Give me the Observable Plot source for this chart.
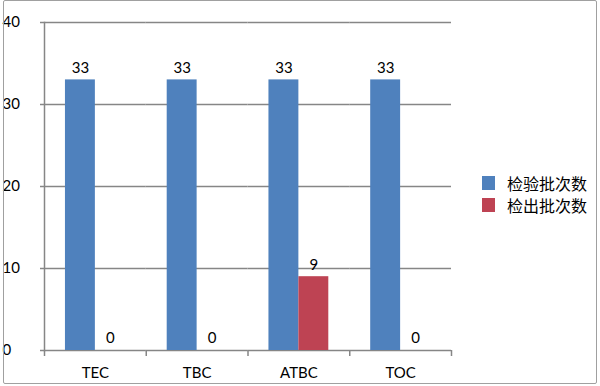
<!DOCTYPE html>
<html>
<head>
<meta charset="utf-8">
<script src="https://cdn.jsdelivr.net/npm/d3@7"></script>
<script src="https://cdn.jsdelivr.net/npm/@observablehq/plot@0.6"></script>
<style>
  body { margin: 0; background: #fff; }
  #wrap { position: relative; width: 600px; height: 386px; font-family: Lato, "Noto Sans CJK SC", sans-serif; }
  #border { position: absolute; left: 3px; top: 0px; width: 592px; height: 382px; border: 1px solid #a0a0a0; border-radius: 2px; pointer-events: none; }
  #legend { position: absolute; left: 482px; top: 172px; font-family: "Noto Sans CJK SC", sans-serif; font-size: 16px; color: #000; }
  .item { display: flex; align-items: center; height: 22px; }
  .sw { width: 13px; height: 14px; margin-right: 12px; }
</style>
</head>
<body>
<div id="wrap">
  <div id="chart"></div>
  <div id="legend"></div>
  <div id="border"></div>
</div>
<script>
const categories = ["TEC", "TBC", "ATBC", "TOC"];
const seriesNames = ["检验批次数", "检出批次数"];
const tested = [33, 33, 33, 33];
const detected = [0, 0, 9, 0];
const yTicks = [0, 10, 20, 30, 40];
const colors = ["#4F81BD", "#BE4353"];

const data = [];
categories.forEach((c, i) => {
  data.push({cat: c, series: seriesNames[0], value: tested[i]});
  data.push({cat: c, series: seriesNames[1], value: detected[i]});
});

const W = 600, H = 386, mL = 44, mR = 149, mT = 22, mB = 36;
const bw = (W - mL - mR) / categories.length;
const gray = "#868686";

const chart = Plot.plot({
  width: W,
  height: H,
  marginLeft: mL,
  marginRight: mR,
  marginTop: mT,
  marginBottom: mB,
  style: {fontFamily: "Lato, 'Noto Sans CJK SC', sans-serif", fontSize: "15px", color: "#000", background: "transparent"},
  fx: {domain: categories, padding: 0, round: false, label: null},
  x: {domain: seriesNames, paddingInner: 0, paddingOuter: 0.7, round: false, axis: null},
  y: {domain: [0, 40], axis: null},
  color: {domain: seriesNames, range: colors},
  marks: [
    Plot.gridY(yTicks, {stroke: gray, strokeOpacity: 1, strokeWidth: 1.5}),
    Plot.axisY(yTicks, {tickSize: 4, tickPadding: 38, textAnchor: "start", stroke: gray, strokeOpacity: 1, strokeWidth: 1.5, fill: "#000", fontSize: 15, label: null}),
    Plot.frame({anchor: "left", facet: "super", stroke: gray, strokeWidth: 1.5}),
    Plot.barY(data, {fx: "cat", x: "series", y: "value", fill: "series"}),
    Plot.text(data, {fx: "cat", x: "series", y: "value", text: d => String(d.value), dy: -12, fontSize: 15, fill: "#000"}),
    Plot.axisFx({anchor: "bottom", tickSize: 0, tickPadding: 17, fontSize: 15, fill: "#000", label: null}),
    Plot.axisFx({anchor: "bottom", tickSize: 6, dx: -bw / 2, fill: "none", stroke: gray, strokeWidth: 1.5, label: null}),
    Plot.axisFx({anchor: "bottom", ticks: [categories[categories.length - 1]], tickSize: 6, dx: bw / 2, fill: "none", stroke: gray, strokeWidth: 1.5, label: null})
  ]
});
document.getElementById("chart").appendChild(chart);

const legend = document.getElementById("legend");
seriesNames.forEach((s, i) => {
  const it = document.createElement("div");
  it.className = "item";
  const sw = document.createElement("div");
  sw.className = "sw";
  sw.style.background = colors[i];
  const t = document.createElement("span");
  t.textContent = s;
  it.appendChild(sw);
  it.appendChild(t);
  legend.appendChild(it);
});
</script>
</body>
</html>
